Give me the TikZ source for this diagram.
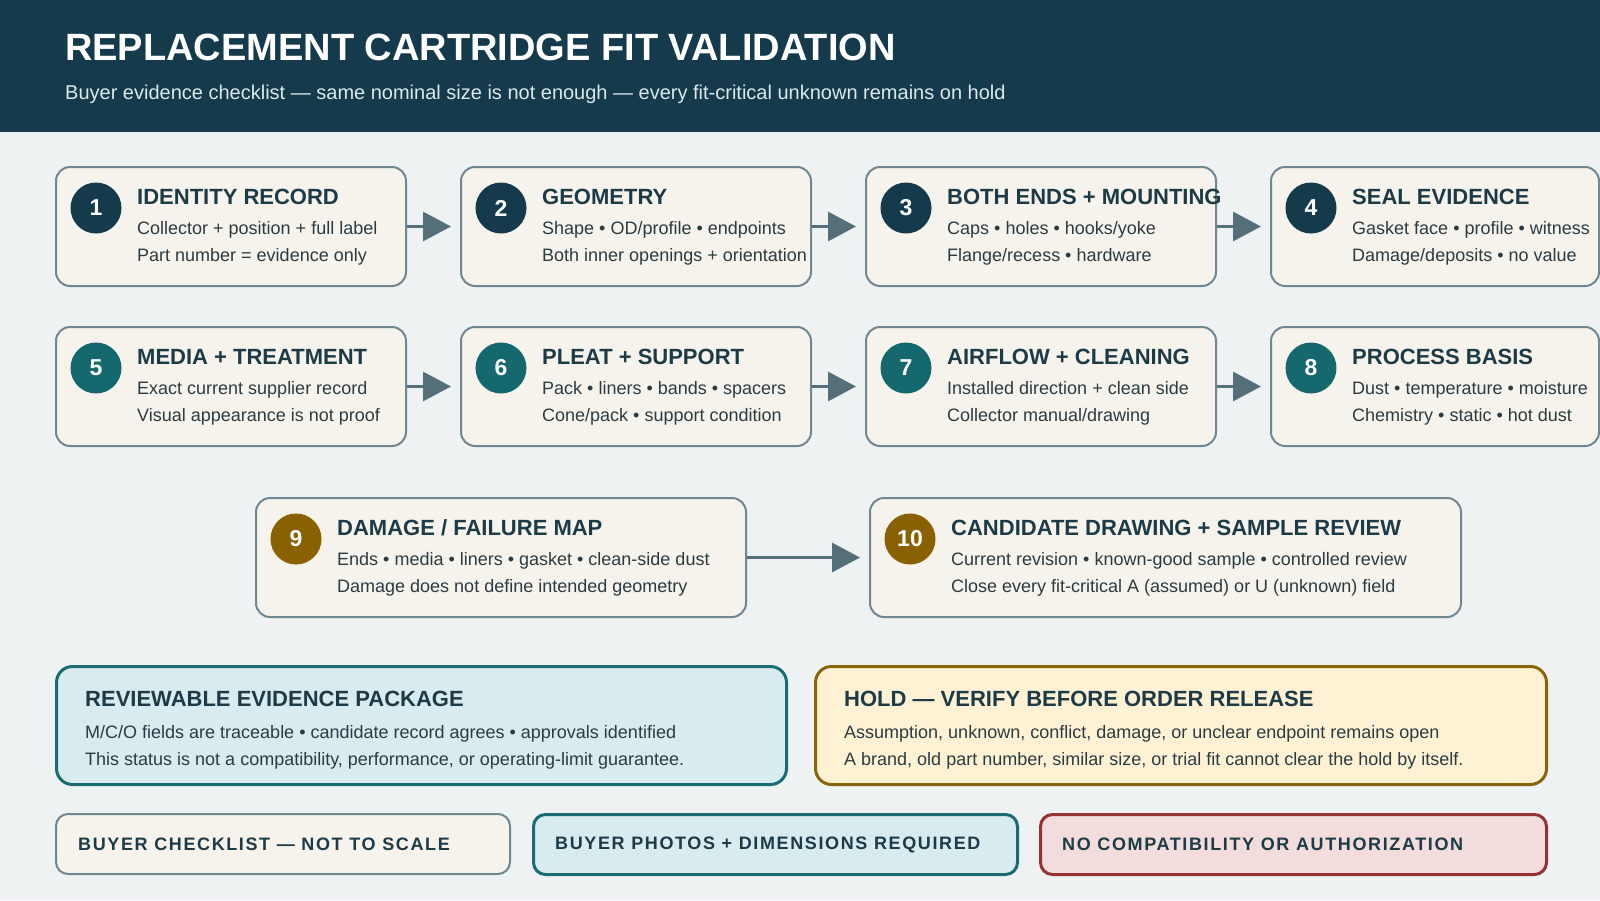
\documentclass[tikz,border=0pt]{standalone}
\usepackage{fontspec}
\setmainfont{Liberation Sans}
\usetikzlibrary{arrows.meta,calc,positioning}
\definecolor{headbg}{HTML}{143A4C}
\definecolor{pagebg}{HTML}{EEF2F3}
\definecolor{cardbg}{HTML}{F6F3EC}
\definecolor{cardline}{HTML}{6F8791}
\definecolor{inkdark}{HTML}{1D3A47}
\definecolor{inkbody}{HTML}{2B3B42}
\definecolor{dotnavy}{HTML}{143A4C}
\definecolor{dotteal}{HTML}{15696E}
\definecolor{dotgold}{HTML}{8A6100}
\definecolor{flowgray}{HTML}{546E7A}
\definecolor{okfill}{HTML}{D8EBEF}
\definecolor{okline}{HTML}{1A6B72}
\definecolor{holdfill}{HTML}{FFF2D4}
\definecolor{holdline}{HTML}{8A6409}
\definecolor{nofill}{HTML}{F2DCDC}
\definecolor{noline}{HTML}{943333}
\definecolor{subink}{HTML}{DCE8EC}
\tikzset{
  card/.style={draw=cardline,fill=cardbg,line width=2pt,rounded corners=14pt,
    anchor=north west,minimum height=119pt,inner sep=0pt},
  numdot/.style={circle,minimum size=51pt,inner sep=0pt,text=white,
    font=\bfseries\fontsize{23}{25}\selectfont},
  cardhead/.style={anchor=base west,inner sep=0pt,text=inkdark,
    font=\bfseries\fontsize{22}{24}\selectfont},
  cardtext/.style={anchor=base west,inner sep=0pt,text=inkbody,
    font=\fontsize{18}{20}\selectfont},
  flow/.style={draw=flowgray,line width=3pt,shorten >=9pt,
    -{Triangle[length=28pt,width=29pt]}},
  statusbox/.style={line width=3pt,rounded corners=16pt,anchor=north west,
    minimum height=118pt,inner sep=0pt},
  tagbox/.style={rounded corners=12pt,anchor=north west,minimum height=60pt,inner sep=0pt},
  tagtext/.style={anchor=west,inner sep=0pt,text=inkdark,
    font=\bfseries\fontsize{18}{20}\selectfont\addfontfeature{LetterSpace=9}}
}
% one numbered step card: name, x, y, width, number, dot colour, title, line 1, line 2
\newcommand{\fitcard}[9]{%
  \node[card,minimum width=#4pt] (#1) at (#2,#3) {};
  \node[numdot,fill=#6] (#1-num) at ($(#1.north west)+(41,42)$) {#5};
  \node[cardhead] (#1-head) at ($(#1.north west)+(82,38)$) {#7};
  \node[cardtext] (#1-a) at ($(#1.north west)+(82,68)$) {#8};
  \node[cardtext] (#1-b) at ($(#1.north west)+(82,95)$) {#9};
}
\begin{document}
\begin{tikzpicture}[x=1pt,y=-1pt]
\useasboundingbox (0,0) rectangle (1600,900);
\fill[pagebg] (0,0) rectangle (1600,900);
%header band
\fill[headbg] (0,0) rectangle (1600,132);
\node[anchor=base west,inner sep=0pt,text=white,font=\bfseries\fontsize{38}{40}\selectfont] (title) at (65,60) {REPLACEMENT CARTRIDGE FIT VALIDATION};
\node[anchor=base west,inner sep=0pt,text=subink,font=\fontsize{20}{22}\selectfont] (subtitle) at (65,99) {Buyer evidence checklist — same nominal size is not enough — every fit-critical unknown remains on hold};
%row 1
\fitcard{c1}{55}{166}{350}{1}{dotnavy}{IDENTITY RECORD}{Collector + position + full label}{Part number = evidence only}
\fitcard{c2}{460}{166}{350}{2}{dotnavy}{GEOMETRY}{Shape • OD/profile • endpoints}{Both inner openings + orientation}
\fitcard{c3}{865}{166}{350}{3}{dotnavy}{BOTH ENDS + MOUNTING}{Caps • holes • hooks/yoke}{Flange/recess • hardware}
\fitcard{c4}{1270}{166}{328}{4}{dotnavy}{SEAL EVIDENCE}{Gasket face • profile • witness}{Damage/deposits • no value}
%row 2
\fitcard{c5}{55}{326}{350}{5}{dotteal}{MEDIA + TREATMENT}{Exact current supplier record}{Visual appearance is not proof}
\fitcard{c6}{460}{326}{350}{6}{dotteal}{PLEAT + SUPPORT}{Pack • liners • bands • spacers}{Cone/pack • support condition}
\fitcard{c7}{865}{326}{350}{7}{dotteal}{AIRFLOW + CLEANING}{Installed direction + clean side}{Collector manual/drawing}
\fitcard{c8}{1270}{326}{328}{8}{dotteal}{PROCESS BASIS}{Dust • temperature • moisture}{Chemistry • static • hot dust}
%row 3
\fitcard{c9}{255}{497}{490}{9}{dotgold}{DAMAGE / FAILURE MAP}{Ends • media • liners • gasket • clean-side dust}{Damage does not define intended geometry}
\fitcard{c10}{869}{497}{591}{10}{dotgold}{CANDIDATE DRAWING + SAMPLE REVIEW}{Current revision • known-good sample • controlled review}{Close every fit-critical A (assumed) or U (unknown) field}
%flow arrows
\draw[flow] (c1.east) -- (c2.west);
\draw[flow] (c2.east) -- (c3.west);
\draw[flow] (c3.east) -- (c4.west);
\draw[flow] (c5.east) -- (c6.west);
\draw[flow] (c6.east) -- (c7.west);
\draw[flow] (c7.east) -- (c8.west);
\draw[flow] (c9.east) -- (c10.west);
%outcome boxes
\node[statusbox,draw=okline,fill=okfill,minimum width=730pt] (ready) at (55,665) {};
\node[cardhead] (ready-head) at ($(ready.north west)+(30,41)$) {REVIEWABLE EVIDENCE PACKAGE};
\node[cardtext] (ready-a) at ($(ready.north west)+(30,73)$) {M/C/O fields are traceable • candidate record agrees • approvals identified};
\node[cardtext] (ready-b) at ($(ready.north west)+(30,100)$) {This status is not a compatibility, performance, or operating-limit guarantee.};
\node[statusbox,draw=holdline,fill=holdfill,minimum width=731pt] (hold) at (814,665) {};
\node[cardhead] (hold-head) at ($(hold.north west)+(30,41)$) {HOLD — VERIFY BEFORE ORDER RELEASE};
\node[cardtext] (hold-a) at ($(hold.north west)+(30,73)$) {Assumption, unknown, conflict, damage, or unclear endpoint remains open};
\node[cardtext] (hold-b) at ($(hold.north west)+(30,100)$) {A brand, old part number, similar size, or trial fit cannot clear the hold by itself.};
%footer tags
\node[tagbox,draw=cardline,fill=cardbg,line width=2pt,minimum width=454pt] (tag1) at (55,813) {};
\node[tagtext] (tag1-t) at ($(tag1.west)+(23,0)$) {BUYER CHECKLIST — NOT TO SCALE};
\node[tagbox,draw=okline,fill=okfill,line width=3pt,minimum width=484pt] (tag2) at (532,813) {};
\node[tagtext] (tag2-t) at ($(tag2.west)+(23,0)$) {BUYER PHOTOS + DIMENSIONS REQUIRED};
\node[tagbox,draw=noline,fill=nofill,line width=3pt,minimum width=506pt] (tag3) at (1039,813) {};
\node[tagtext] (tag3-t) at ($(tag3.west)+(23,0)$) {NO COMPATIBILITY OR AUTHORIZATION};
\end{tikzpicture}
\end{document}
